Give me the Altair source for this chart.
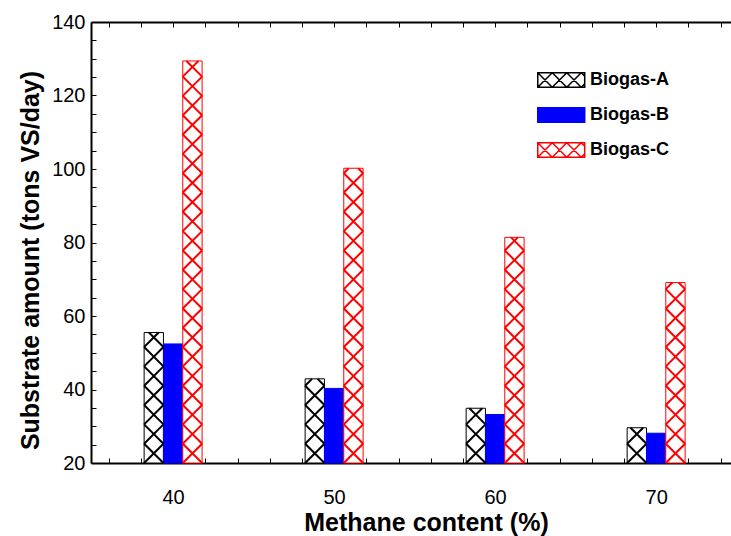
import altair as alt
import pandas as pd

# ---- data ----
methane = [40, 50, 60, 70]
biogas_a = [55.5, 42.9, 34.9, 29.6]
biogas_b = [52.4, 40.3, 33.2, 28.1]
biogas_c = [129.4, 100.2, 81.4, 69.1]
series_names = ["Biogas-A", "Biogas-B", "Biogas-C"]
x_ticks = [40, 50, 60, 70]
y_ticks = [20, 40, 60, 80, 100, 120, 140]

# ---- layout / style constants ----
W, H = 640, 441
X_DOM = [34.9, 74.65]
Y_DOM = [20, 140]
BAR_W = 1.2            # bar width in x units
OFFS = {"Biogas-A": -BAR_W, "Biogas-B": 0.0, "Biogas-C": BAR_W}
FONT = "Liberation Sans"

px_x = W / (X_DOM[1] - X_DOM[0])
px_y = H / (Y_DOM[1] - Y_DOM[0])
PERIOD = BAR_W * px_x / px_y   # hatch period in y units (45 degree lines)

rows = []
for s, vals in zip(series_names, [biogas_a, biogas_b, biogas_c]):
    for m, v in zip(methane, vals):
        rows.append({"methane": m, "series": s, "value": v, "off": OFFS[s]})
bars_df = pd.DataFrame(rows)

# hatch segments derived from the bar values
hrows = []
for s, vals in [("Biogas-A", biogas_a), ("Biogas-C", biogas_c)]:
    for m, v in zip(methane, vals):
        xl = m + OFFS[s] - BAR_W / 2
        xr = m + OFFS[s] + BAR_W / 2
        k = 0
        while Y_DOM[0] + k * PERIOD < v:
            y0 = Y_DOM[0] + k * PERIOD
            y1 = y0 + PERIOD
            t = 1.0
            if y1 > v:
                t = (v - y0) / PERIOD
                y1 = v
            hrows.append({"series": s, "hx0": xl, "hx1": xl + t * (xr - xl), "hy0": y0, "hy1": y1})
            hrows.append({"series": s, "hx0": xr, "hx1": xr - t * (xr - xl), "hy0": y0, "hy1": y1})
            k += 1
hatch_df = pd.DataFrame(hrows)

xscale = alt.Scale(domain=X_DOM, nice=False, zero=False)
yscale = alt.Scale(domain=Y_DOM, nice=False, zero=False)

fill_scale = alt.Scale(domain=series_names, range=["white", "#0000ff", "white"])
stroke_scale = alt.Scale(domain=series_names, range=["#000000", "#0000ff", "#ff0000"])

SYM = ("M-1,-1H5.48V1H-1Z M-1,-1L1,1 M-1,1L1,-1 M1,-1L3,1 M1,1L3,-1 "
       "M3,-1L5,1 M3,1L5,-1 M5,-1L5.48,-0.52 M5,1L5.48,0.52")

legend = alt.Legend(
    title="", orient="none", legendX=445, legendY=49, padding=0,
    symbolType=SYM, symbolSize=210, symbolStrokeWidth=1.5, symbolOffset=0,
    labelFont=FONT, labelFontSize=18, labelFontWeight="bold", labelColor="black",
    labelOffset=36, rowPadding=13, symbolOpacity=1,
)

bottom_axis = alt.Axis(
    values=x_ticks, ticks=False, grid=False, domainColor="black", domainWidth=2,
    labelFont=FONT, labelFontSize=20, labelColor="black", labelPadding=24,
    title="Methane content (%)", titleFont=FONT, titleFontSize=25,
    titleFontWeight="bold", titleColor="black", titlePadding=3, labelFlush=False,
    titleX=335, titleAlign="center",
)
left_axis = alt.Axis(
    values=y_ticks, ticks=False, grid=False, domainColor="black", domainWidth=2,
    labelFont=FONT, labelFontSize=20, labelColor="black", labelPadding=6,
    title="Substrate amount (tons VS/day)", titleFont=FONT, titleFontSize=25,
    titleFontWeight="bold", titleColor="black", titlePadding=8, labelFlush=False,
    titleY=238, titleAlign="center",
)
minor_x = list(range(36, 75, 2))
minor_y = list(range(20, 141, 5))
in_bottom = alt.Axis(orient="top", offset=-H, values=minor_x, labels=False, domain=False,
                     grid=False, tickSize=5, tickColor="black", tickWidth=1, title="")
in_left = alt.Axis(orient="right", offset=-W, values=minor_y, labels=False, domain=False,
                   grid=False, tickSize=5, tickColor="black", tickWidth=1, title="")
top_axis = alt.Axis(orient="bottom", offset=-H, values=minor_x, labels=False, domain=True,
                    domainColor="black", domainWidth=2, grid=False, tickSize=5,
                    tickColor="black", tickWidth=1, title="")

bars = alt.Chart(bars_df).transform_calculate(
    x0="datum.methane + datum.off - %f" % (BAR_W / 2),
    x1="datum.methane + datum.off + %f" % (BAR_W / 2),
).mark_bar(strokeWidth=1).encode(
    x=alt.X("x0:Q", scale=xscale, axis=bottom_axis),
    x2="x1:Q",
    y=alt.Y("value:Q", scale=yscale, axis=left_axis),
    y2=alt.datum(20),
    fill=alt.Fill("series:N", scale=fill_scale, legend=legend),
    stroke=alt.Stroke("series:N", scale=stroke_scale, legend=legend),
)

hatch_a = alt.Chart(hatch_df).transform_filter("datum.series == 'Biogas-A'").mark_rule(
    color="black", strokeWidth=2).encode(
    x=alt.X("hx0:Q", scale=xscale, axis=in_bottom),
    x2="hx1:Q",
    y=alt.Y("hy0:Q", scale=yscale, axis=in_left),
    y2="hy1:Q",
)
hatch_c = alt.Chart(hatch_df).transform_filter("datum.series == 'Biogas-C'").mark_rule(
    color="#ff0000", strokeWidth=2).encode(
    x=alt.X("hx0:Q", scale=xscale, axis=top_axis),
    x2="hx1:Q",
    y=alt.Y("hy0:Q", scale=yscale, axis=None),
    y2="hy1:Q",
)

chart = alt.layer(bars, hatch_a, hatch_c).resolve_axis(
    x="independent", y="independent"
).properties(
    width=W, height=H,
    autosize=alt.AutoSizeParams(type="none"),
    padding={"left": 91, "top": 22, "right": 0, "bottom": 73},
    background="white",
).configure_view(stroke=None)

chart.save("out.html", embed_options={"renderer": "svg", "actions": False})
